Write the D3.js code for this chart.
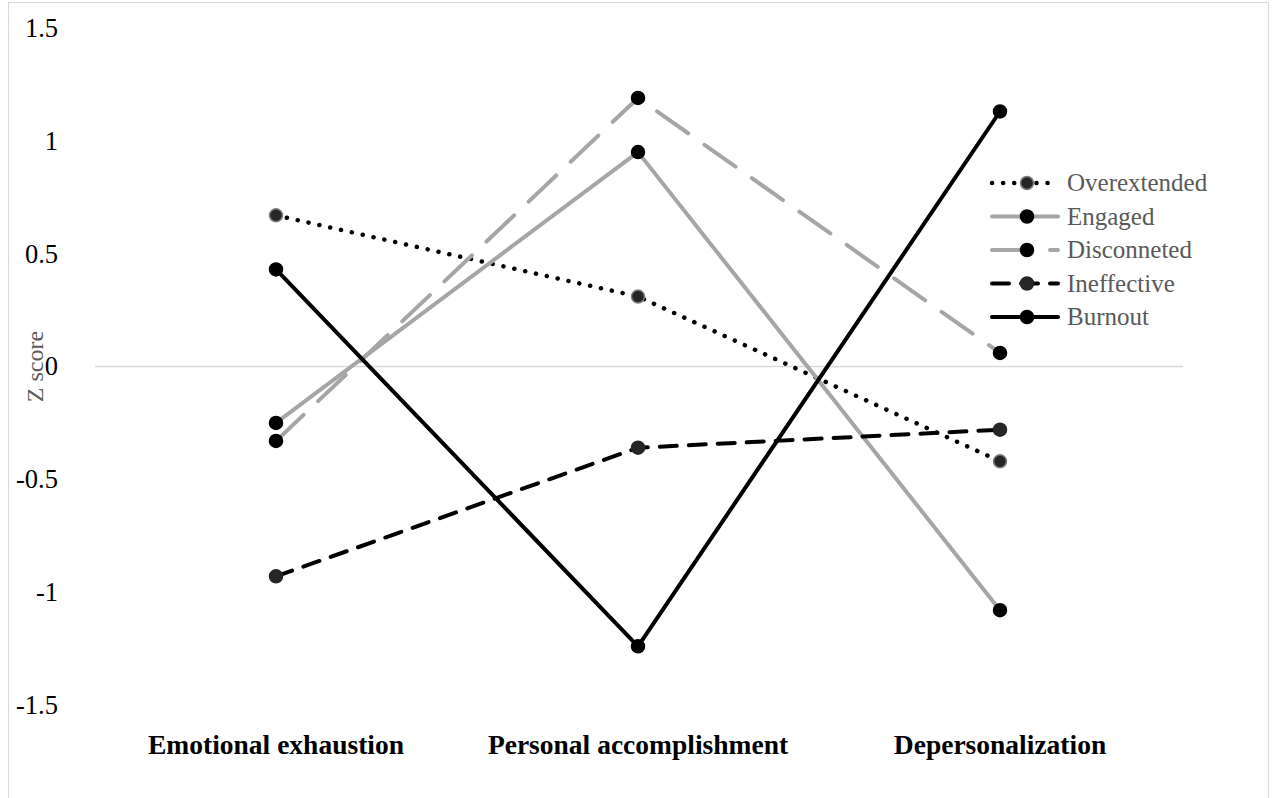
<!DOCTYPE html>
<html>
<head>
<meta charset="utf-8">
<script src="https://cdn.jsdelivr.net/npm/d3@7"></script>
<style>
  html, body { margin: 0; padding: 0; background: #ffffff; }
  svg { display: block; }
  svg text { font-family: 'Liberation Serif', 'DejaVu Serif', 'Times New Roman', Times, serif; }
</style>
</head>
<body>
<div id="chart"></div>
<script>
// Kategorien und Werte (Z-Scores)
const categories = ['Emotional exhaustion', 'Personal accomplishment', 'Depersonalization'];
const seriesNames = ['Overextended', 'Engaged', 'Disconneted', 'Ineffective', 'Burnout'];
const overextended = [0.67, 0.31, -0.42];
const engaged      = [-0.25, 0.95, -1.08];
const disconneted  = [-0.33, 1.19, 0.06];
const ineffective  = [-0.93, -0.36, -0.28];
const burnout      = [0.43, -1.24, 1.13];
const yTicks = [-1.5, -1, -0.5, 0, 0.5, 1, 1.5];

(function () {
  'use strict';

  const width = 1274, height = 798;

  // Linienstile je Serie
  const styles = [
    { stroke: '#000000', width: 4.5, dash: '0.1 11', cap: 'round', fill: '#262626', mstroke: '#7f7f7f' },
    { stroke: '#a6a6a6', width: 4,   dash: null,      cap: 'round', fill: '#000000', mstroke: '#000000' },
    { stroke: '#a6a6a6', width: 4,   dash: '38 20',   cap: 'round', fill: '#000000', mstroke: '#000000' },
    { stroke: '#000000', width: 4,   dash: '17 12',   cap: 'round', fill: '#262626', mstroke: '#262626' },
    { stroke: '#000000', width: 4,   dash: null,      cap: 'round', fill: '#000000', mstroke: '#000000' },
  ];
  const data = [overextended, engaged, disconneted, ineffective, burnout];

  const svg = d3.select('#chart').append('svg')
    .attr('width', width)
    .attr('height', height);

  // Rahmen
  svg.append('rect')
    .attr('x', 8.5).attr('y', 2.5)
    .attr('width', 1260).attr('height', 800)
    .attr('fill', '#ffffff')
    .attr('stroke', '#d9d9d9')
    .attr('stroke-width', 1);

  const x = d3.scaleBand().domain(categories).range([95, 1181]);
  const y = d3.scaleLinear().domain([-1.5, 1.5]).range([705, 28]);

  // Null-Linie
  svg.append('line')
    .attr('x1', 95).attr('x2', 1183)
    .attr('y1', y(0)).attr('y2', y(0))
    .attr('stroke', '#d9d9d9')
    .attr('stroke-width', 1.5);

  // Y-Achse
  const yAxis = svg.append('g')
    .attr('transform', 'translate(58,0)')
    .call(d3.axisLeft(y).tickValues(yTicks).tickSize(0).tickPadding(0)
      .tickFormat(d => String(d)));
  yAxis.select('.domain').remove();
  yAxis.selectAll('text')
    .attr('font-size', '26.5px')
    .attr('fill', '#000000');

  // X-Achse (Kategorien)
  const xAxis = svg.append('g')
    .attr('transform', 'translate(0,734)')
    .call(d3.axisBottom(x).tickSize(0).tickPadding(0));
  xAxis.select('.domain').remove();
  xAxis.selectAll('text')
    .attr('font-size', '27.5px')
    .attr('font-weight', 'bold')
    .attr('fill', '#000000');
  svg.selectAll('g').attr('font-family', null);

  // Achsentitel
  svg.append('text')
    .attr('transform', `translate(43,${y(0)}) rotate(-90)`)
    .attr('text-anchor', 'middle')
    .attr('font-size', '24px')
    .attr('fill', '#595959')
    .text('Z score');

  const line = d3.line()
    .x((d, i) => x(categories[i]) + x.bandwidth() / 2)
    .y(d => y(d));

  // Linien
  data.forEach((vals, si) => {
    const s = styles[si];
    svg.append('path')
      .datum(vals)
      .attr('d', line)
      .attr('fill', 'none')
      .attr('stroke', s.stroke)
      .attr('stroke-width', s.width)
      .attr('stroke-linecap', s.cap)
      .attr('stroke-linejoin', 'round')
      .attr('stroke-dasharray', s.dash);
  });

  // Marker
  data.forEach((vals, si) => {
    const s = styles[si];
    svg.append('g').selectAll('circle')
      .data(vals)
      .enter()
      .append('circle')
      .attr('cx', (d, i) => x(categories[i]) + x.bandwidth() / 2)
      .attr('cy', d => y(d))
      .attr('r', 6.5)
      .attr('fill', s.fill)
      .attr('stroke', s.mstroke)
      .attr('stroke-width', 1.5);
  });

  // Legende
  const legend = svg.append('g').attr('transform', 'translate(992,183)');
  seriesNames.forEach((name, i) => {
    const s = styles[i];
    const row = legend.append('g').attr('transform', `translate(0,${i * 33.5})`);
    row.append('line')
      .attr('x1', 0).attr('x2', 66)
      .attr('y1', 0).attr('y2', 0)
      .attr('stroke', s.stroke)
      .attr('stroke-width', s.width)
      .attr('stroke-linecap', s.cap)
      .attr('stroke-dasharray', s.dash);
    row.append('circle')
      .attr('cx', 35).attr('cy', 0).attr('r', 6.5)
      .attr('fill', s.fill)
      .attr('stroke', s.mstroke)
      .attr('stroke-width', 1.5);
    row.append('text')
      .attr('x', 75).attr('y', 0)
      .attr('dy', '0.33em')
      .attr('font-size', '25px')
      .attr('fill', '#595959')
      .text(name);
  });
})();
</script>
</body>
</html>
